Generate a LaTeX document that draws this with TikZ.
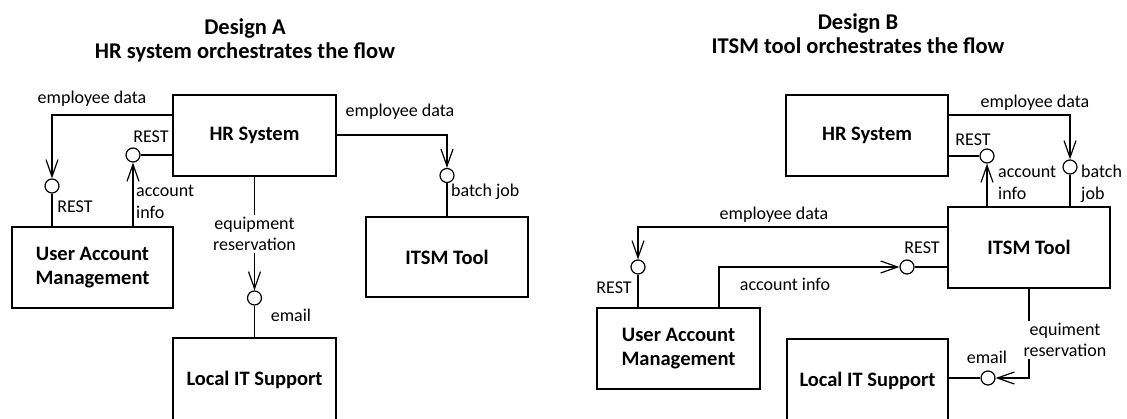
\documentclass[tikz,border=0pt]{standalone}
\usepackage{fontspec}
\setmainfont{Carlito}
\usetikzlibrary{arrows.meta,calc}
\tikzset{
  box/.style={draw, line width=1.3pt, inner sep=0pt, align=center, font=\fontsize{20.5}{24}\selectfont\bfseries},
  lol/.style={draw, circle, line width=1.2pt, minimum size=14pt, inner sep=0pt},
  con/.style={line width=1.2pt},
  arr/.style={con, -{Straight Barb[length=17pt,width=12pt]}},
  lbl/.style={inner sep=1pt, font=\fontsize{18}{21.5}\selectfont},
  lbll/.style={lbl, align=left, anchor=west},
  ttl/.style={font=\fontsize{22.5}{24}\selectfont\bfseries, align=center},
}
\begin{document}
\begin{tikzpicture}[x=1pt,y=-1pt]
\useasboundingbox (0,0) rectangle (1127,419);
% titles
\node[ttl] (tA) at (245,40) {Design A\\HR system orchestrates the flow};
\node[ttl] (tB) at (858,34) {Design B\\ITSM tool orchestrates the flow};
% ---------- Design A ----------
\node[box, minimum width=163pt, minimum height=81pt] (hrA) at (254.5,135.5) {HR System};
\node[box, minimum width=161pt, minimum height=81pt] (uamA) at (92.5,267.5) {User Account\\Management};
\node[box, minimum width=162pt, minimum height=80pt] (itsmA) at (447,257) {ITSM Tool};
\node[box, minimum width=163pt, minimum height=84pt] (litA) at (254.5,380) {Local IT Support};
\node[lol] (cA1) at (52,186) {};
\node[lol] (cA2) at (133,155) {};
\node[lol] (cA3) at (447,175.5) {};
\node[lol] (cA4) at (254.5,298) {};
% employee data -> UAM
\draw[arr] ([yshift=20.5pt]hrA.west) -| (cA1);
\draw[con] (cA1) -- (cA1 |- uamA.north);
\node[lbl] (lA1) at (92,99) {employee data};
\node[lbl] (lA2) at (75,207) {REST};
% account info -> HR
\draw[con] ([yshift=-19.5pt]hrA.west) -- (cA2);
\draw[arr] (cA2 |- uamA.north) -- (cA2);
\node[lbl] (lA3) at (151,137) {REST};
\node[lbll] (lA4) at (135,202) {account\\info};
% employee data -> ITSM
\draw[arr] ([yshift=0.5pt]hrA.east) -| (cA3);
\draw[con] (cA3) -- (itsmA.north);
\node[lbl] (lA5) at (400,112) {employee data};
\node[lbll] (lA6) at (450,192) {batch job};
% equipment reservation
\draw[arr] (hrA.south) -- (cA4);
\draw[con] (cA4) -- (litA.north);
\node[lbl, fill=white, align=center, inner sep=2pt] (lA7) at (254.5,234) {equipment\\reservation};
\node[lbl] (lA8) at (291,315) {email};
% ---------- Design B ----------
\node[box, minimum width=162pt, minimum height=81pt] (hrB) at (867,135.5) {HR System};
\node[box, minimum width=162pt, minimum height=81pt] (itsmB) at (1029,247.5) {ITSM Tool};
\node[box, minimum width=163pt, minimum height=81pt] (uamB) at (678.5,348.5) {User Account\\Management};
\node[box, minimum width=161pt, minimum height=84pt] (litB) at (867.5,381) {Local IT Support};
\node[lol] (cB1) at (1070,167) {};
\node[lol] (cB2) at (987,156) {};
\node[lol] (cB3) at (638,267) {};
\node[lol] (cB4) at (907,267) {};
\node[lol] (cB5) at (988,378) {};
% HR -> ITSM employee data
\draw[arr] ([yshift=20.5pt]hrB.east) -| (cB1);
\draw[con] (cB1) -- (cB1 |- itsmB.north);
\node[lbl] (lB1) at (1035,103) {employee data};
\node[lbll] (lB2) at (1080,184) {batch\\job};
% ITSM -> HR account info
\draw[con] ([yshift=-20.5pt]hrB.east) -- (cB2);
\draw[arr] (cB2 |- itsmB.north) -- (cB2);
\node[lbl] (lB3) at (973,140) {REST};
\node[lbll] (lB4) at (997,183) {account\\info};
% ITSM -> UAM employee data
\draw[arr] ([yshift=20.5pt]itsmB.west) -| (cB3);
\draw[con] (cB3) -- (cB3 |- uamB.north);
\node[lbl] (lB5) at (774,215) {employee data};
\node[lbl] (lB6) at (614,288) {REST};
% UAM -> ITSM account info
\draw[arr] ([xshift=40.5pt]uamB.north) |- (cB4);
\draw[con] (cB4) -- ([yshift=-19.5pt]itsmB.west);
\node[lbl] (lB7) at (785,284) {account info};
\node[lbl] (lB8) at (922,248) {REST};
% ITSM -> Local IT equipment reservation
\draw[arr] (itsmB.south) |- (cB5);
\draw[con] (cB5) -- (cB5 -| litB.east);
\node[lbl, fill=white, align=center, inner sep=2pt] (lB9) at (1065,340) {equiment\\reservation};
\node[lbl] (lB10) at (987,357) {email};
\end{tikzpicture}
\end{document}
